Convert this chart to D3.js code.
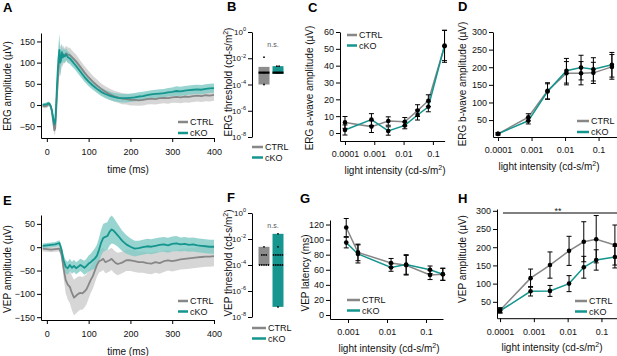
<!DOCTYPE html>
<html>
<head>
<meta charset="utf-8">
<style>
  body { margin: 0; background: #fff; }
  text { font-family: "Liberation Sans", Arial, sans-serif; }
</style>
</head>
<body>
<div id="fig"></div>
<script src="https://d3js.org/d3.v7.min.js"></script>
<script>

// ---------- data ----------
// A: ERG traces (time in ms, amplitude in uV)
const ergTime = [-10,-5,0,3,6,9,12,15,18,20, 22,24,26,28,30,32,34,36,38,40,
  43,46,50,55,60,65,70,80,90,100, 110,120,130,140,150,160,170,180,190,200,
  210,220,230,240,250,260,270,280,290,300, 310,320,330,340,350,360,370,380,390,400];
const ergCtrl = [-2,-3,-2,1,2,-3,-15,-38,-60,-55, -20,20,55,85,110,102,112,118,113,120,
  116,122,119,118,113,108,103,90,77,65, 55,46,38,31,26,21,18,15,14,12,
  12,11,12,14,15,14,16,17,16,18, 19,18,20,19,21,22,21,23,22,24];
const ergCtrlSd = [5,5,5,5,5,6,8,10,12,12, 15,20,30,38,40,35,30,25,22,20,
  18,18,17,17,16,16,16,15,15,15, 14,14,13,13,13,13,13,13,13,13,
  13,13,13,13,13,13,13,13,13,13, 14,14,14,14,14,14,14,14,14,14];
const ergCko = [0,1,2,4,3,-2,-12,-30,-46,-40, -5,40,80,110,130,100,108,125,112,118,
  115,120,113,110,104,98,92,79,66,55, 46,38,31,26,22,19,17,16,16,17,
  18,20,21,23,25,26,27,28,30,31, 33,32,34,35,36,37,36,38,39,40];
const ergCkoSd = [4,4,4,4,4,5,7,9,10,10, 12,18,28,35,38,30,25,20,18,16,
  15,14,14,13,13,12,12,12,11,11, 10,10,10,10,10,10,10,10,10,10,
  10,10,10,10,10,10,10,10,10,10, 11,11,11,11,11,11,11,11,11,11];

// E: VEP traces
const vepTime = [-10,0,10,20,30,35,40,45,50,55, 60,65,70,75,80,85,90,95,100,105,
  110,115,120,125,130,135,140,145,150,155, 160,165,170,180,190,200,210,220,230,240,
  250,260,270,280,290,300,310,320,330,340, 350,360,370,380,390,400];
const vepCtrl = [-3,-4,-5,-4,-3,-15,-45,-70,-80,-85, -98,-108,-104,-100,-98,-99,-95,-90,-80,-70,
  -62,-50,-38,-30,-28,-25,-32,-30,-28,-25, -30,-34,-36,-33,-28,-28,-30,-32,-32,-34,
  -35,-32,-34,-30,-28,-30,-28,-26,-25,-24, -23,-22,-21,-20,-20,-19];
const vepCtrlSd = [6,6,6,6,6,10,20,28,32,35, 37,38,38,37,36,35,34,32,30,28,
  27,26,25,24,24,24,24,24,24,24, 24,24,24,23,23,23,23,23,23,23,
  23,23,23,23,22,22,22,22,22,22, 22,22,22,22,22,22];
const vepCko = [3,4,5,6,9,-5,-28,-42,-45,-38, -44,-40,-45,-42,-38,-41,-44,-40,-35,-32,
  -28,-24,-18,-5,10,20,22,24,33,38, 35,30,25,14,6,1,-3,-2,0,2,
  1,3,5,6,4,7,8,6,7,5, 6,4,3,2,1,1];
const vepCkoSd = [5,5,5,5,6,8,12,14,14,13, 13,13,13,13,13,14,15,16,17,18,
  20,22,24,26,28,30,30,30,30,30, 28,26,24,22,20,18,17,16,16,16,
  16,16,16,16,16,16,16,15,15,15, 15,15,15,15,15,15];

// light intensities (cd-s/m2)
const intensity = [0.0001, 0.0008, 0.003, 0.011, 0.03, 0.07, 0.25];
const latIntensity = [0.0009, 0.0018, 0.0127, 0.031, 0.127, 0.27];

// C: ERG a-wave amplitude
const aWaveCtrl = [6.3, 3.8, 7.1, 6.7, 13.3, 19.2, 51.5];
const aWaveCtrlErr = [3.5, 3.5, 2.5, 2.5, 3.5, 3.5, 9.5];
const aWaveCko = [1.8, 8.0, 1.2, 4.5, 10.7, 15.6, 52];
const aWaveCkoErr = [3, 3.5, 2.5, 2, 3, 3, 9];

// D: ERG b-wave amplitude
const bWaveCtrl = [11, 58, 133, 183, 183, 184, 201];
const bWaveCtrlErr = [3, 10, 23, 33, 33, 30, 35];
const bWaveCko = [11, 48, 131, 190, 199, 194, 207];
const bWaveCkoErr = [3, 9, 22, 35, 35, 33, 35];

// G: VEP latency
const latCtrl = [116, 83, 69, 66, 53, 54];
const latCtrlErr = [12, 11, 6, 13, 6, 8];
const latCko = [96, 81, 63, 67, 60, 54];
const latCkoErr = [7, 12, 5, 13, 5, 8];

// H: VEP amplitude
const vepAmpCtrl = [27, 115, 151, 190, 215, 222, 206];
const vepAmpCtrlErr = [7, 25, 36, 40, 55, 65, 55];
const vepAmpCko = [25, 79, 80, 100, 145, 165, 173];
const vepAmpCkoErr = [6, 13, 15, 22, 30, 28, 30];

// B, F: thresholds (bar = low, median, high) and single animals
const ergThrCtrlBar = [1e-4, 8e-4, 2.2e-3];
const ergThrCtrlDots = [1.2e-2, 8e-4, 1e-4];
const ergThrCkoBar = [6.5e-4, 8e-4, 2.5e-3];
const ergThrCkoDots = [2.5e-3, 2.5e-3, 8e-4, 8e-4];
const vepThrCtrlBar = [1e-4, 6e-4, 2.5e-3];
const vepThrCtrlDots = [2.5e-3, 6e-4, 6e-4, 6e-4, 1e-4, 1e-4, 1e-4, 1e-4, 1e-4];
const vepThrCkoBar = [6e-8, 6e-4, 2.5e-2];
const vepThrCkoDots = [2.5e-2, 2.5e-3, 6e-4, 6e-4, 6e-4, 6e-4, 6e-4, 1e-4, 1e-4, 1e-4, 1e-4, 1e-4, 6e-8];

// tick labels
const timeTicks = [0, 100, 200, 300, 400];
const logTicks = [1e-4, 1e-3, 1e-2, 1e-1];
const logTickLabels = ["0.0001", "0.001", "0.01", "0.1"];
const thrTicks = [1, 1e-2, 1e-4, 1e-6, 1e-8];
const thrTickExp = ["0", "-2", "-4", "-6", "-8"];
const groups = ["CTRL", "cKO"];

// ---------- drawing ----------
const teal = "#14958e", tealBand = "#7ecbc5", grey = "#878787", greyBand = "#d6d6d6";
const svg = d3.select("#fig").append("svg")
  .attr("width", 617).attr("height", 356)
  .style("background", "#fff");

function rich(g, x, y, str, size, anchor, rotate) {
  // str may contain ^{..} for superscripts
  const t = g.append("text").attr("font-size", size).attr("text-anchor", anchor || "start").attr("fill", "#111");
  if (rotate) t.attr("transform", `translate(${x},${y}) rotate(-90)`);
  else t.attr("x", x).attr("y", y);
  let up = false;
  str.split(/(\^\{[^}]*\})/).forEach(p => {
    if (!p) return;
    if (p.startsWith("^{")) {
      t.append("tspan").attr("dy", -size * 0.45).attr("font-size", size * 0.7).text(p.slice(2, -1));
      up = true;
    } else {
      const s = t.append("tspan").text(p);
      if (up) { s.attr("dy", size * 0.45); up = false; }
    }
  });
  return t;
}

function styleAxis(a, fs) {
  a.attr("font-family", '"Liberation Sans", Arial, sans-serif').attr("font-size", fs || 9);
  a.select(".domain").attr("stroke", "#000");
  a.selectAll(".tick line").attr("stroke", "#000");
  a.selectAll(".tick text").attr("fill", "#111");
}

function panelLabel(x, y, s) {
  svg.append("text").attr("x", x).attr("y", y).attr("font-size", 13)
    .attr("font-weight", "bold").attr("fill", "#000").text(s);
}

function legend(x, y, gap, len) {
  [grey, teal].forEach((c, i) => {
    svg.append("line").attr("x1", x).attr("x2", x + len)
      .attr("y1", y + i * gap).attr("y2", y + i * gap)
      .attr("stroke", c).attr("stroke-width", 2.5);
    svg.append("text").attr("x", x + len + 2).attr("y", y + i * gap + 3.3)
      .attr("font-size", 9).attr("fill", "#111").text(groups[i]);
  });
}

function timePanel(o) {
  const x = d3.scaleLinear().domain([-14, 400]).range([41, 214]);
  const y = d3.scaleLinear().domain(o.yDom).range(o.yRange);
  const g = svg.append("g");
  const series = [
    { m: o.ctrl, s: o.ctrlSd, c: grey, b: greyBand, op: 1 },
    { m: o.cko, s: o.ckoSd, c: teal, b: tealBand, op: 0.8 }
  ];
  series.forEach(sr => {
    const area = d3.area()
      .x((d, i) => x(o.t[i]))
      .y0((d, i) => y(d - sr.s[i]))
      .y1((d, i) => y(d + sr.s[i]));
    g.append("path").datum(sr.m).attr("d", area).attr("fill", sr.b).attr("opacity", sr.op);
  });
  series.forEach(sr => {
    const line = d3.line().x((d, i) => x(o.t[i])).y(d => y(d));
    g.append("path").datum(sr.m).attr("d", line).attr("fill", "none")
      .attr("stroke", sr.c).attr("stroke-width", 1.8).attr("stroke-linejoin", "round");
  });
  const ax = g.append("g").attr("transform", `translate(0,${o.yRange[0]})`)
    .call(d3.axisBottom(x).tickValues(timeTicks).tickSize(4).tickSizeOuter(0).tickPadding(7));
  styleAxis(ax);
  const ay = g.append("g").attr("transform", "translate(41,0)")
    .call(d3.axisLeft(y).tickValues(o.yTicks).tickSize(4).tickSizeOuter(0).tickPadding(2));
  styleAxis(ay);
  rich(svg, 128, o.yRange[0] + 35, "time (ms)", 10, "middle");
  rich(svg, 11, o.titleY, o.title, 10, "middle", true);
}

function thresholdPanel(o) {
  const y = d3.scaleLog().domain([1e-8, 1]).range(o.yRange);
  const g = svg.append("g");
  const ay = g.append("g").attr("transform", "translate(252,0)")
    .call(d3.axisLeft(y).tickValues(thrTicks).tickFormat("").tickSize(4).tickSizeOuter(0));
  styleAxis(ay);
  thrTicks.forEach((t, i) => rich(g, 246, y(t) + 3, "10^{" + thrTickExp[i] + "}", 8, "end"));
  const bars = [
    { v: o.ctrlBar, d: o.ctrlDots, c: "#8c8c8c", cx: 264 },
    { v: o.ckoBar, d: o.ckoDots, c: "#17968f", cx: 278 }
  ];
  bars.forEach(b => {
    g.append("rect").attr("x", b.cx - 5.5).attr("width", 11)
      .attr("y", y(b.v[2])).attr("height", y(b.v[0]) - y(b.v[2])).attr("fill", b.c);
    if (o.median) {
      g.append("line").attr("x1", b.cx - 5.5).attr("x2", b.cx + 5.5)
        .attr("y1", y(b.v[1])).attr("y2", y(b.v[1])).attr("stroke", "#000").attr("stroke-width", 2.2);
    }
    const counts = {};
    b.d.forEach(v => { counts[v] = (counts[v] || 0) + 1; });
    const seen = {};
    b.d.forEach(v => {
      const k = seen[v] = (seen[v] || 0) + 1;
      const off = (k - 1 - (counts[v] - 1) / 2) * 2.2;
      g.append("circle").attr("cx", b.cx + off).attr("cy", y(v)).attr("r", 0.9).attr("fill", "#000");
    });
  });
  rich(g, 273, o.yRange[1] + 15, "n.s.", 7, "middle").attr("fill", "#555");
  rich(svg, 232, o.titleY, o.title, 10, "middle", true);
}

function intensityPanel(o) {
  const x = d3.scaleLog().domain(o.xDom).range(o.xRange);
  const y = d3.scaleLinear().domain(o.yDom).range(o.yRange);
  const g = svg.append("g");
  const ax = g.append("g").attr("transform", `translate(0,${o.yRange[0]})`)
    .call(d3.axisBottom(x).tickValues(o.xTicks).tickFormat((d, i) => o.xLabels[i])
      .tickSize(4).tickSizeOuter(0).tickPadding(6));
  styleAxis(ax);
  const ay = g.append("g").attr("transform", `translate(${o.xRange[0]},0)`)
    .call(d3.axisLeft(y).tickValues(o.yTicks).tickSize(4).tickSizeOuter(0).tickPadding(2));
  styleAxis(ay);
  const series = [
    { v: o.ctrl, e: o.ctrlErr, c: grey },
    { v: o.cko, e: o.ckoErr, c: teal }
  ];
  series.forEach(s => {
    g.append("path").datum(s.v)
      .attr("d", d3.line().x((d, i) => x(o.xs[i])).y(d => y(d)))
      .attr("fill", "none").attr("stroke", s.c).attr("stroke-width", 1.5);
  });
  series.forEach(s => {
    s.v.forEach((v, i) => {
      const cx = x(o.xs[i]);
      g.append("line").attr("x1", cx).attr("x2", cx).attr("y1", y(v - s.e[i])).attr("y2", y(v + s.e[i]))
        .attr("stroke", "#000").attr("stroke-width", 1);
      [v - s.e[i], v + s.e[i]].forEach(w => {
        g.append("line").attr("x1", cx - 2.5).attr("x2", cx + 2.5).attr("y1", y(w)).attr("y2", y(w))
          .attr("stroke", "#000").attr("stroke-width", 1);
      });
      g.append("circle").attr("cx", cx).attr("cy", y(v)).attr("r", 2.3).attr("fill", "#000");
    });
  });
  rich(svg, o.xTitleX, o.yRange[0] + 33, "light intensity (cd-s/m^{2})", 10, "middle");
  rich(svg, o.titleX, o.titleY, o.title, 10, "middle", true);
  return { x, y, g };
}

// A
timePanel({ t: ergTime, ctrl: ergCtrl, ctrlSd: ergCtrlSd, cko: ergCko, ckoSd: ergCkoSd,
  yDom: [-78, 170], yRange: [138, 33], yTicks: [-50, 0, 50, 100, 150],
  title: "ERG amplitude (\u00b5V)", titleY: 86 });
legend(178, 122, 11, 10);
panelLabel(3, 12, "A");

// E
timePanel({ t: vepTime, ctrl: vepCtrl, ctrlSd: vepCtrlSd, cko: vepCko, ckoSd: vepCkoSd,
  yDom: [-156, 69], yRange: [320, 215], yTicks: [-150, -100, -50, 0, 50],
  title: "VEP amplitude (\u00b5V)", titleY: 269 });
legend(178, 301, 10.5, 10);
panelLabel(3, 205, "E");

// B
thresholdPanel({ yRange: [137, 32], ctrlBar: ergThrCtrlBar, ctrlDots: ergThrCtrlDots,
  ckoBar: ergThrCkoBar, ckoDots: ergThrCkoDots, median: true,
  title: "ERG threshold (cd-s/m^{2})", titleY: 82 });
legend(252, 147, 10.5, 11);
panelLabel(227, 11, "B");

// F
thresholdPanel({ yRange: [317, 213], ctrlBar: vepThrCtrlBar, ctrlDots: vepThrCtrlDots,
  ckoBar: vepThrCkoBar, ckoDots: vepThrCkoDots, median: false,
  title: "VEP threshold (cd-s/m^{2})", titleY: 263 });
legend(252, 328, 10.5, 14);
panelLabel(227, 202, "F");

// C
intensityPanel({ xs: intensity, xDom: [10 ** -4.17, 10 ** -0.6], xRange: [340, 444.6],
  yDom: [-4.75, 60], yRange: [141, 32], yTicks: [0, 10, 20, 30, 40, 50, 60],
  xTicks: logTicks, xLabels: logTickLabels,
  ctrl: aWaveCtrl, ctrlErr: aWaveCtrlErr, cko: aWaveCko, ckoErr: aWaveCkoErr,
  xTitleX: 395, title: "ERG a-wave amplitude (\u00b5V)", titleX: 313, titleY: 88 });
legend(347, 35, 10.5, 10);
panelLabel(308, 12, "C");

// D
intensityPanel({ xs: intensity, xDom: [10 ** -4.15, 10 ** -0.45], xRange: [493, 617],
  yDom: [2, 300], yRange: [137, 32], yTicks: [50, 100, 150, 200, 250, 300],
  xTicks: logTicks, xLabels: logTickLabels,
  ctrl: bWaveCtrl, ctrlErr: bWaveCtrlErr, cko: bWaveCko, ckoErr: bWaveCkoErr,
  xTitleX: 549, title: "ERG b-wave amplitude (\u00b5V)", titleX: 466, titleY: 84 });
legend(577, 121, 11, 12);
panelLabel(458, 11, "D");

// G
intensityPanel({ xs: latIntensity, xDom: [10 ** -3.462, 10 ** -0.564], xRange: [330, 443],
  yDom: [-5.3, 126], yRange: [319, 220], yTicks: [0, 20, 40, 60, 80, 100, 120],
  xTicks: logTicks.slice(1), xLabels: logTickLabels.slice(1),
  ctrl: latCtrl, ctrlErr: latCtrlErr, cko: latCko, ckoErr: latCkoErr,
  xTitleX: 389, title: "VEP latency (ms)", titleX: 309, titleY: 273 });
legend(347, 300, 10.5, 13);
panelLabel(300, 203, "G");

// H
intensityPanel({ xs: intensity, xDom: [10 ** -4.09, 10 ** -0.54], xRange: [497, 617],
  yDom: [5, 305], yRange: [318.2, 209], yTicks: [50, 100, 150, 200, 250, 300],
  xTicks: logTicks, xLabels: logTickLabels,
  ctrl: vepAmpCtrl, ctrlErr: vepAmpCtrlErr, cko: vepAmpCko, ckoErr: vepAmpCkoErr,
  xTitleX: 552, title: "VEP amplitude (\u00b5V)", titleX: 466, titleY: 259 });
svg.append("line").attr("x1", 503).attr("x2", 617).attr("y1", 213).attr("y2", 213)
  .attr("stroke", "#000").attr("stroke-width", 1);
svg.append("text").attr("x", 558).attr("y", 214).attr("text-anchor", "middle")
  .attr("font-size", 9).attr("fill", "#222").text("**");
legend(575, 301, 10.5, 12);
panelLabel(458, 203, "H");

</script>
</body>
</html>
